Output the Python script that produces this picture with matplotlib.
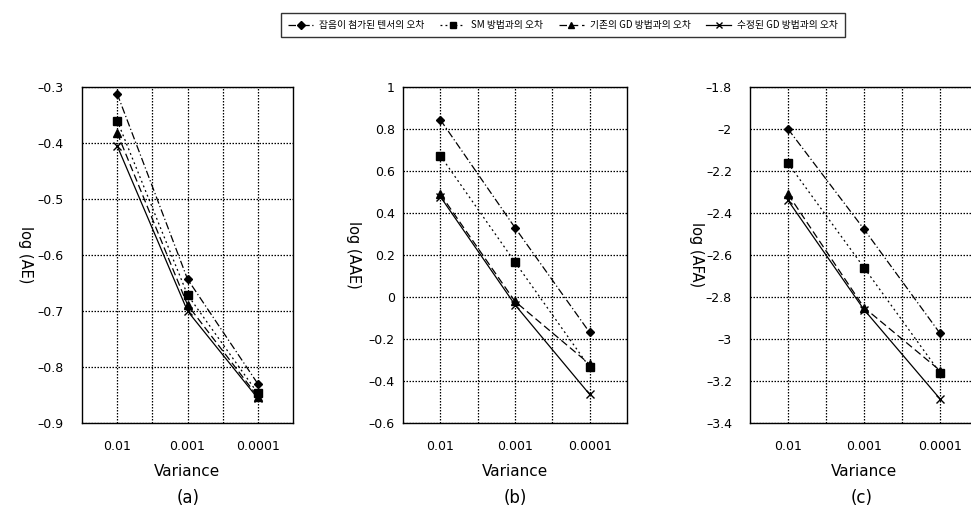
import matplotlib
matplotlib.use("Agg")
import matplotlib.pyplot as plt
from matplotlib.ticker import MultipleLocator, FixedLocator, FuncFormatter

plt.rcParams['font.family'] = ['DejaVu Sans', 'Noto Sans CJK KR']

variances = ["0.01", "0.001", "0.0001"]
series_names = ["잡음이 첨가된 텐서의 오차", "SM 방법과의 오차",
                "기존의 GD 방법과의 오차", "수정된 GD 방법과의 오차"]

ae_noisy = [-0.312, -0.643, -0.830]
ae_sm = [-0.360, -0.671, -0.847]
ae_gd = [-0.382, -0.689, -0.853]
ae_mod = [-0.405, -0.700, -0.856]

aae_noisy = [0.844, 0.330, -0.169]
aae_sm = [0.673, 0.166, -0.335]
aae_gd = [0.490, -0.021, -0.320]
aae_mod = [0.478, -0.037, -0.464]

afa_noisy = [-2.000, -2.477, -2.973]
afa_sm = [-2.163, -2.660, -3.161]
afa_gd = [-2.310, -2.850, -3.150]
afa_mod = [-2.340, -2.860, -3.285]

panels = [
    ("log (AE)", "(a)", [ae_noisy, ae_sm, ae_gd, ae_mod], (-0.9, -0.3), 0.1),
    ("log (AAE)", "(b)", [aae_noisy, aae_sm, aae_gd, aae_mod], (-0.6, 1.0), 0.2),
    ("log (AFA)", "(c)", [afa_noisy, afa_sm, afa_gd, afa_mod], (-3.4, -1.8), 0.2),
]

styles = [
    dict(linestyle=(0, (6, 2, 1, 2)), marker='D', markersize=4.5),
    dict(linestyle=(0, (1.5, 2.5)), marker='s', markersize=6),
    dict(linestyle=(0, (6, 3)), marker='^', markersize=6),
    dict(linestyle='-', marker='x', markersize=6),
]

W, H = 971, 521
fig = plt.figure(figsize=(W / 100, H / 100), dpi=100)

boxes = [(82, 293), (403, 627), (750, 978)]
top_px, bot_px = 87, 423
ylabel_x = [25, 353, 696]
ypads = [13, 6, 13]
tag_x = [188, 515, 862]


def fmt(v, p):
    s = "%g" % round(v, 2)
    return s.replace('-', '\u2013')


xs = [1, 2, 3]
handles = []
for i, ((ylab, tag, data, ylim, step), (l, r)) in enumerate(zip(panels, boxes)):
    ax = fig.add_axes([l / W, 1 - bot_px / H, (r - l) / W, (bot_px - top_px) / H])
    for vals, st in zip(data, styles):
        h, = ax.plot(xs, vals, color='black', linewidth=0.9,
                     markerfacecolor='black', markeredgecolor='black', **st)
        if i == 0:
            handles.append(h)
    ax.set_xlim(0.5, 3.5)
    ax.set_ylim(*ylim)
    ax.yaxis.set_major_locator(MultipleLocator(step))
    ax.yaxis.set_major_formatter(FuncFormatter(fmt))
    ax.set_xticks(xs)
    ax.set_xticklabels(variances)
    ax.xaxis.set_minor_locator(FixedLocator([1.5, 2.5]))
    ax.grid(True, which='both', axis='x', linestyle=(0, (1.2, 1.2)), color='black', linewidth=0.9)
    ax.grid(True, which='major', axis='y', linestyle=(0, (1.2, 1.2)), color='black', linewidth=0.9)
    ax.tick_params(axis='both', which='both', length=0, labelsize=9)
    ax.tick_params(axis='x', pad=12)
    ax.tick_params(axis='y', pad=ypads[i])
    for sp in ax.spines.values():
        sp.set_linewidth(1.0)
    ax.set_xlabel("Variance", fontsize=11, labelpad=8)
    fig.text(ylabel_x[i] / W, 1 - 255 / H, ylab, rotation=270, fontsize=10.5,
             ha='center', va='center')
    fig.text(tag_x[i] / W, 1 - 498 / H, tag, fontsize=12, ha='center', va='center')

leg = fig.legend(handles, series_names, loc='center', ncol=4,
                 bbox_to_anchor=(563 / W, 1 - 25 / H), frameon=True, fancybox=False,
                 edgecolor='black', handlelength=2.6, columnspacing=1.6, handletextpad=0.6,
                 borderpad=0.7,
                 prop={'family': ['Noto Sans CJK KR', 'DejaVu Sans'], 'size': 7})
for lh in leg.legend_handles:
    lh.set_markersize(4)
leg.get_frame().set_linewidth(1.0)

fig.savefig("out.png", dpi=100)
